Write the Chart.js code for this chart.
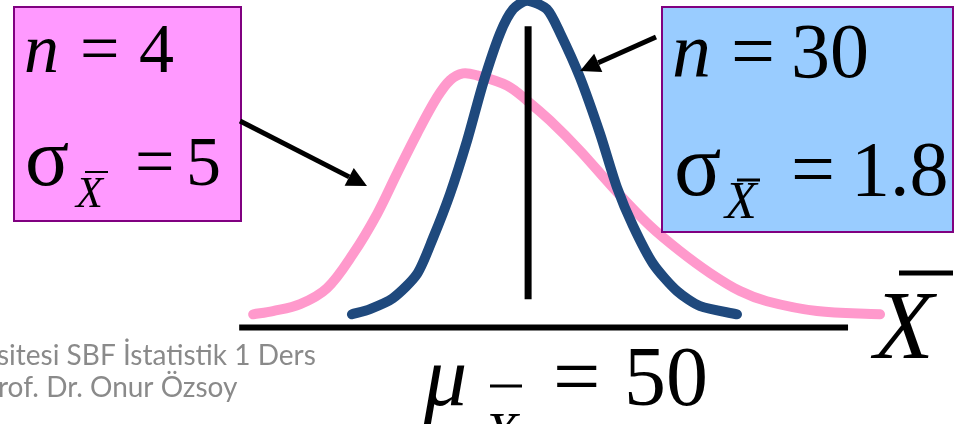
<!DOCTYPE html>
<html>
<head>
<meta charset="utf-8">
<style>
  html, body { margin: 0; padding: 0; background: #ffffff; }
  #wrap { width: 954px; height: 424px; }
</style>
<script src="https://cdn.jsdelivr.net/npm/chart.js@4/dist/chart.umd.min.js"></script>
</head>
<body>
<div id="wrap"><canvas id="c" width="954" height="424"></canvas></div>
<script>
// Sampling distribution of the mean: X̄ values and curve heights
const MEAN = 50;

// n = 4, σ_X̄ = 5 (wide curve)
const wideX = [41.93, 42.51, 43.31, 44.10, 44.86, 45.57, 46.15, 46.74, 47.33, 47.71, 48.09, 48.50,
               49.38, 49.97, 50.64, 51.52, 52.49, 53.58, 54.46, 55.34, 56.22, 57.01, 58.48, 60.33];
const wideY = [0.040, 0.050, 0.071, 0.120, 0.224, 0.347, 0.470, 0.592, 0.703, 0.755, 0.776, 0.770,
               0.739, 0.693, 0.632, 0.540, 0.427, 0.310, 0.233, 0.166, 0.111, 0.080, 0.050, 0.040];

// n = 30, σ_X̄ = 1.8 (narrow curve)
const narrowX = [44.83, 45.36, 46.03, 46.74, 47.21, 47.71, 48.21, 48.68, 49.18, 49.56, 49.97,
                 50.55, 50.94, 51.52, 52.11, 52.61, 53.08, 53.67, 54.37, 55.05, 56.13];
const narrowY = [0.040, 0.056, 0.089, 0.163, 0.273, 0.408, 0.571, 0.746, 0.899, 0.972, 0.998,
                 0.972, 0.899, 0.764, 0.592, 0.427, 0.310, 0.194, 0.111, 0.065, 0.040];

// mean marker and horizontal axis
const meanLineY = [0.086, 0.920];
const axisX = [41.52, 59.39];

const toPoints = (xs, ys) => xs.map((x, i) => ({ x: x, y: ys[i] }));

const SERIF = '"Liberation Serif", "Times New Roman", serif';

function drawXbar(ctx, x, baseline, size, barY, barX1, barX2, barW) {
  ctx.font = 'italic ' + size + 'px ' + SERIF;
  ctx.fillText('X', x, baseline);
  ctx.fillRect(barX1, barY - barW / 2, barX2 - barX1, barW);
}

function drawArrow(ctx, x1, y1, x2, y2, headLen, headW) {
  const ang = Math.atan2(y2 - y1, x2 - x1);
  const bx = x2 - headLen * Math.cos(ang);
  const by = y2 - headLen * Math.sin(ang);
  ctx.beginPath();
  ctx.moveTo(x1, y1);
  ctx.lineTo(bx, by);
  ctx.stroke();
  ctx.beginPath();
  ctx.moveTo(x2, y2);
  ctx.lineTo(bx + headW * Math.sin(ang), by - headW * Math.cos(ang));
  ctx.lineTo(bx - headW * Math.sin(ang), by + headW * Math.cos(ang));
  ctx.closePath();
  ctx.fill();
}

const slideText = {
  id: 'slideText',
  afterDraw(chart) {
    const ctx = chart.ctx;
    ctx.save();
    ctx.textBaseline = 'alphabetic';
    ctx.textAlign = 'left';

    // left box: n = 4
    ctx.fillStyle = '#FF99FF';
    ctx.fillRect(14, 7, 227, 214);
    ctx.strokeStyle = '#800080';
    ctx.lineWidth = 2;
    ctx.strokeRect(14, 7, 227, 214);

    // right box: n = 30
    ctx.fillStyle = '#99CCFF';
    ctx.fillRect(662, 7, 291, 225);
    ctx.strokeRect(662, 7, 291, 225);

    ctx.fillStyle = '#000000';
    // n = 4
    ctx.font = 'italic 70px ' + SERIF;
    ctx.fillText('n', 24, 72);
    ctx.font = '70px ' + SERIF;
    ctx.fillText('=', 80, 72);
    ctx.fillText('4', 139, 72);
    // σ_X̄ = 5
    ctx.font = '82px ' + SERIF;
    ctx.fillText('σ', 25, 185);
    drawXbar(ctx, 76, 207, 44, 172, 85, 108, 2);
    ctx.font = '70px ' + SERIF;
    ctx.fillText('=', 135, 185);
    ctx.fillText('5', 186, 185);

    // n = 30
    ctx.font = 'italic 78px ' + SERIF;
    ctx.fillText('n', 672, 77);
    ctx.font = '78px ' + SERIF;
    ctx.fillText('=', 731, 77);
    ctx.fillText('30', 791, 77);
    // σ_X̄ = 1.8
    ctx.font = '88px ' + SERIF;
    ctx.fillText('σ', 674, 195);
    drawXbar(ctx, 725, 218, 52, 180, 737, 760, 3);
    ctx.font = '78px ' + SERIF;
    ctx.fillText('=', 791, 195);
    ctx.fillText('1.8', 851, 195);

    // μ_X̄ = 50
    ctx.font = 'italic 86px ' + SERIF;
    ctx.fillText('μ', 424, 405);
    drawXbar(ctx, 484, 452, 56, 386, 490, 522, 3);
    ctx.font = '84px ' + SERIF;
    ctx.fillText('=', 553, 405);
    ctx.fillText('50', 624, 405);

    // X̄ axis title
    drawXbar(ctx, 874, 358, 98, 273, 899, 953, 5);

    // arrows pointing at each curve
    ctx.strokeStyle = '#000000';
    ctx.lineWidth = 5;
    drawArrow(ctx, 240, 121, 367, 186, 20, 10);
    drawArrow(ctx, 656, 37, 580, 71, 20, 10);

    // footer credit
    ctx.fillStyle = '#8A8A8A';
    ctx.font = '28px Lato, "Open Sans", sans-serif';
    ctx.fillText('sitesi SBF İstatistik 1 Ders', -3, 365);
    ctx.fillText('rof. Dr. Onur Özsoy', -2, 397);
    ctx.restore();
  }
};

const lineStyle = {
  showLine: true,
  pointRadius: 0,
  pointHoverRadius: 0,
  fill: false,
  borderCapStyle: 'round',
  borderJoinStyle: 'round',
  clip: false
};

new Chart(document.getElementById('c'), {
  type: 'scatter',
  data: {
    datasets: [
      Object.assign({}, lineStyle, {
        label: 'n = 4',
        data: toPoints(wideX, wideY),
        borderColor: '#FF99CC',
        borderWidth: 10,
        tension: 0.35,
        order: 4
      }),
      Object.assign({}, lineStyle, {
        label: 'n = 30',
        data: toPoints(narrowX, narrowY),
        borderColor: '#1F497D',
        borderWidth: 10,
        tension: 0.25,
        order: 3
      }),
      Object.assign({}, lineStyle, {
        label: 'mean',
        data: meanLineY.map(y => ({ x: MEAN, y: y })),
        borderColor: '#000000',
        borderWidth: 7,
        borderCapStyle: 'butt',
        order: 2
      }),
      Object.assign({}, lineStyle, {
        label: 'axis',
        data: axisX.map(x => ({ x: x, y: 0 })),
        borderColor: '#000000',
        borderWidth: 6,
        borderCapStyle: 'butt',
        order: 1
      })
    ]
  },
  options: {
    responsive: false,
    animation: false,
    events: [],
    layout: { padding: 0 },
    plugins: {
      legend: { display: false },
      title: { display: false },
      tooltip: { enabled: false }
    },
    scales: {
      x: { type: 'linear', min: 34.5, max: 62.5, display: false },
      y: { type: 'linear', min: -0.295, max: 1, display: false }
    }
  },
  plugins: [slideText]
});
</script>
</body>
</html>
